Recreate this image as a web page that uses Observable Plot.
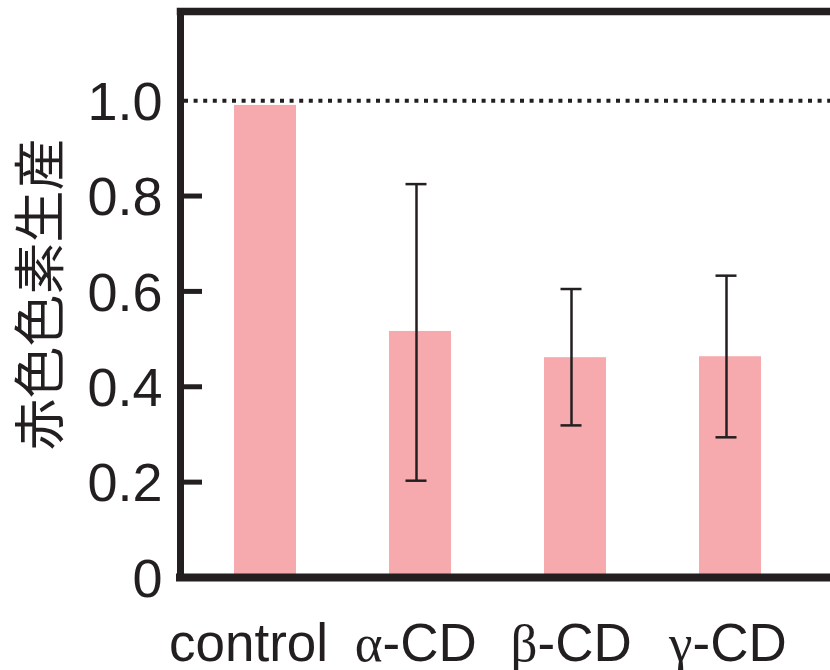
<!DOCTYPE html>
<html><head><meta charset="utf-8">
<script src="https://cdn.jsdelivr.net/npm/d3@7"></script>
<script src="https://cdn.jsdelivr.net/npm/@observablehq/plot@0.6"></script>
<style>html,body{margin:0;padding:0;background:#fff;overflow:hidden}</style>
</head><body><div id="chart"></div>
<script>
const categories = ["control", "α-CD", "β-CD", "γ-CD"];
const labelGreek = ["", "α", "β", "γ"];
const labelRest = ["control", "-CD", "-CD", "-CD"];
const means = [0.99, 0.516, 0.461, 0.463];
const errLow = [null, 0.203, 0.319, 0.294];
const errHigh = [null, 0.825, 0.605, 0.633];
const yTicks = [0, 0.2, 0.4, 0.6, 0.8, 1.0];
const yTickLabels = ["0", "0.2", "0.4", "0.6", "0.8", "1.0"];
const tickMarks = [0.2, 0.4, 0.6, 0.8];
const referenceLevel = [1.0];
const yLabel = "赤色色素生産";

const data = categories.map((c, i) => ({c, v: means[i], lo: errLow[i], hi: errHigh[i], g: labelGreek[i], r: labelRest[i]}));
const errs = data.filter(d => d.lo != null);
const greekLabels = data.filter(d => d.g !== "");
const plainLabels = data.filter(d => d.g === "");

const ink = "#231f20";
const sans = "'Liberation Sans', Arial, sans-serif";
const serif = "'Liberation Serif', 'DejaVu Serif', serif";
const W = 830, H = 670, mL = 180, mT = 11, mB = 93, mR = 0;

const chart = Plot.plot({
  width: W, height: H,
  marginLeft: mL, marginTop: mT, marginBottom: mB, marginRight: mR,
  style: {fontFamily: sans, background: "#fff", color: ink},
  x: {domain: categories, range: [186, 809.5], paddingInner: 0.6, paddingOuter: 0.3, axis: null},
  y: {domain: [0, 1.187]},
  marks: [
    Plot.barY(data, {x: "c", y: "v", fill: "#f6aaad"}),
    Plot.ruleX(errs, {x: "c", y1: "lo", y2: "hi", stroke: ink, strokeWidth: 2.5, dx: -4}),
    Plot.tickY(errs, {x: "c", y: "lo", stroke: ink, strokeWidth: 2.5, dx: -4, insetLeft: 20.5, insetRight: 20.5}),
    Plot.tickY(errs, {x: "c", y: "hi", stroke: ink, strokeWidth: 2.5, dx: -4, insetLeft: 20.5, insetRight: 20.5}),
    Plot.ruleY(referenceLevel, {stroke: ink, strokeWidth: 4, strokeDasharray: "4 5.6", insetLeft: 4}),
    Plot.ruleY(tickMarks, {stroke: ink, strokeWidth: 5, insetRight: W - mR - mL - 22}),
    Plot.ruleY([0], {stroke: ink, strokeWidth: 8, strokeLinecap: "square"}),
    Plot.frame({anchor: "left", stroke: ink, strokeWidth: 7, strokeLinecap: "square"}),
    Plot.frame({anchor: "top", stroke: ink, strokeWidth: 7.5, strokeLinecap: "square"}),
    Plot.axisY(yTicks, {tickSize: 0, tickPadding: 18, fontSize: 54, dy: 2,
      tickFormat: d => yTickLabels[yTicks.indexOf(d)]}),
    // x tick labels
    Plot.text(plainLabels, {x: "c", y: () => 0, text: "r", fontSize: 53, fontFamily: sans,
      lineAnchor: "top", textAnchor: "middle", dy: 45.4, dx: -17, fill: ink}),
    Plot.text(greekLabels, {x: "c", y: () => 0, text: "g", fontSize: 53, fontFamily: serif,
      lineAnchor: "top", textAnchor: "end", dy: 45.4, dx: -38, fill: ink}),
    Plot.text(greekLabels, {x: "c", y: () => 0, text: "r", fontSize: 53, fontFamily: sans,
      lineAnchor: "top", textAnchor: "start", dy: 45.4, dx: -38, fill: ink}),
    Plot.text([yLabel], {frameAnchor: "left", rotate: -90, dx: -138, fontSize: 52,
      textAnchor: "middle", fontFamily: "'Noto Sans CJK JP', sans-serif", fill: ink})
  ]
});

document.getElementById("chart").appendChild(chart);
</script>
</body></html>
